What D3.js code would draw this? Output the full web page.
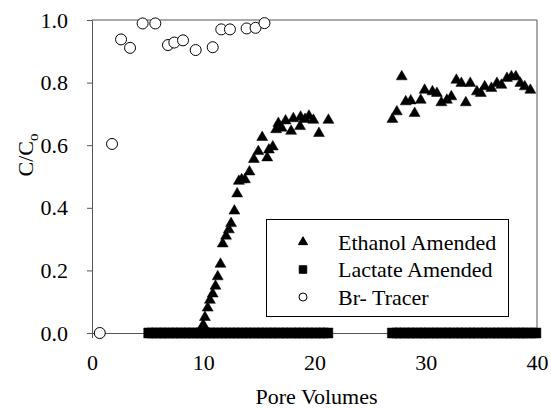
<!DOCTYPE html>
<html>
<head>
<meta charset="utf-8">
<script src="https://cdn.jsdelivr.net/npm/d3@7"></script>
<style>
	body { margin: 0; background: #fff; }
</style>
</head>
<body>
<div id="graph"></div>
<script>
/*
 * values: [pore volumes, C/Co]
 */
var ethanolPts = [
	[9.8, 0.01], [10.0, 0.026], [10.15, 0.05], [10.4, 0.08], [10.6, 0.105],
	[10.85, 0.125], [11.1, 0.15], [11.3, 0.18], [11.55, 0.22], [11.75, 0.285],
	[12.05, 0.31], [12.3, 0.33], [12.5, 0.35], [12.8, 0.39], [13.05, 0.445],
	[13.2, 0.485], [13.45, 0.49], [13.75, 0.49], [14.15, 0.515], [14.55, 0.555],
	[14.95, 0.58], [15.3, 0.625], [15.75, 0.56], [15.9, 0.585], [16.25, 0.595],
	[16.55, 0.65], [16.75, 0.67], [17.05, 0.655], [17.4, 0.678], [17.9, 0.645],
	[18.1, 0.685], [18.7, 0.66], [18.75, 0.69], [19.15, 0.683], [19.5, 0.693],
	[19.9, 0.68], [20.4, 0.638], [21.25, 0.68],
	[27.0, 0.683], [27.4, 0.707], [27.84, 0.819], [28.2, 0.739], [28.65, 0.742],
	[29.0, 0.702], [29.55, 0.744], [29.9, 0.776], [30.6, 0.771], [31.0, 0.766],
	[31.4, 0.736], [31.9, 0.744], [32.3, 0.755], [32.75, 0.808], [33.2, 0.798],
	[33.6, 0.736], [34.0, 0.798], [34.6, 0.771], [34.95, 0.766], [35.3, 0.787],
	[35.9, 0.782], [36.4, 0.798], [36.8, 0.792], [37.3, 0.814], [37.7, 0.819],
	[38.1, 0.819], [38.5, 0.798], [38.9, 0.787], [39.4, 0.776]
];

var lactatePts = [
	[5.1, 0], [5.4, 0], [5.8, 0], [6.2, 0], [6.5, 0], [6.9, 0], [7.3, 0],
	[7.6, 0], [8.0, 0], [8.4, 0], [8.7, 0], [9.1, 0], [9.5, 0], [9.8, 0],
	[10.2, 0], [10.6, 0], [10.9, 0], [11.3, 0], [11.7, 0], [12.0, 0],
	[12.4, 0], [12.8, 0], [13.1, 0], [13.5, 0], [13.9, 0], [14.2, 0],
	[14.6, 0], [15.0, 0], [15.3, 0], [15.7, 0], [16.1, 0], [16.4, 0],
	[16.8, 0], [17.2, 0], [17.5, 0], [17.9, 0], [18.3, 0], [18.6, 0],
	[19.0, 0], [19.4, 0], [19.7, 0], [20.1, 0], [20.5, 0], [20.8, 0],
	[21.2, 0],
	[27.0, 0], [27.4, 0], [27.7, 0], [28.1, 0], [28.5, 0], [28.8, 0],
	[29.2, 0], [29.6, 0], [29.9, 0], [30.3, 0], [30.7, 0], [31.0, 0],
	[31.4, 0], [31.8, 0], [32.1, 0], [32.5, 0], [32.9, 0], [33.2, 0],
	[33.6, 0], [34.0, 0], [34.3, 0], [34.7, 0], [35.1, 0], [35.4, 0],
	[35.8, 0], [36.2, 0], [36.5, 0], [36.9, 0], [37.3, 0], [37.6, 0],
	[38.0, 0], [38.4, 0], [38.7, 0], [39.1, 0], [39.5, 0], [39.9, 0]
];

var brPts = [
	[0.7, 0.0], [1.8, 0.604], [2.61, 0.938], [3.42, 0.911], [4.55, 0.989],
	[5.69, 0.989], [6.83, 0.92], [7.4, 0.928], [8.18, 0.935], [9.32, 0.904],
	[10.85, 0.913], [11.62, 0.97], [12.4, 0.97], [13.9, 0.973], [14.7, 0.975],
	[15.5, 0.99]
];

var xTicks = [0, 10, 20, 30, 40];
var yTicks = [0, 0.2, 0.4, 0.6, 0.8, 1.0];
var legendLabels = ["Ethanol Amended", "Lactate Amended", "Br- Tracer"];

var width = 551, height = 408;
// plot box (window.top is taken, hence the prefix)
var plotLeft = 92, plotRight = 537, plotTop = 20, plotBottom = 333;
var axisColor = "#555";
var fontName = "\"Liberation Serif\"";

var xScale = d3.scaleLinear().domain([0, 40]).range([plotLeft, plotRight]);
var yScale = d3.scaleLinear().domain([0, 1]).range([plotBottom, plotTop]);

var svg = d3.select("#graph").append("svg")
	.attr("width", width)
	.attr("height", height);

// every text gets the family set on itself
function serifText(sel, px) {
	return sel.style("font-family", fontName)
		.style("font-size", px + "px")
		.attr("fill", "#000");
}

// frame: top and right edges without ticks
svg.append("path")
	.attr("d", "M" + plotLeft + "," + plotTop + "H" + plotRight
		+ "V" + plotBottom)
	.attr("fill", "none")
	.attr("stroke", axisColor);

var xAxis = d3.axisBottom(xScale)
	.tickValues(xTicks)
	.tickSize(5)
	.tickPadding(16)
	.tickSizeOuter(0)
	.tickFormat(d3.format("d"));

var yAxis = d3.axisLeft(yScale)
	.tickValues(yTicks)
	.tickSize(5)
	.tickPadding(19)
	.tickSizeOuter(0)
	.tickFormat(d3.format(".1f"));

function styleAxis(g) {
	g.attr("font-family", null).attr("font-size", null);
	g.select(".domain").attr("stroke", axisColor);
	g.selectAll(".tick line").attr("stroke", axisColor);
	serifText(g.selectAll(".tick text"), 22);
}

svg.append("g")
	.attr("transform", "translate(0," + plotBottom + ")")
	.call(xAxis)
	.call(styleAxis);

svg.append("g")
	.attr("transform", "translate(" + plotLeft + ",0)")
	.call(yAxis)
	.call(styleAxis);

// axis titles
serifText(svg.append("text"), 22)
	.attr("x", (plotLeft + plotRight) / 2 + 2)
	.attr("y", 404)
	.attr("text-anchor", "middle")
	.text("Pore Volumes");

var yTitle = serifText(svg.append("text"), 22)
	.attr("transform", "translate(33,155) rotate(-90)")
	.attr("text-anchor", "middle");
yTitle.append("tspan").text("C/C");
serifText(yTitle.append("tspan"), 15)
	.attr("baseline-shift", "-5")
	.text("o");

var tri = d3.symbol().type(d3.symbolTriangle);
var sq = d3.symbol().type(d3.symbolSquare);
var circ = d3.symbol().type(d3.symbolCircle);

function drawSeries(points, symbolGen, size, fill) {
	svg.append("g").selectAll("path")
		.data(points)
		.enter().append("path")
		.attr("transform", function (d) {
			return "translate(" + xScale(d[0]) + "," + yScale(d[1]) + ")";
		})
		.attr("d", symbolGen.size(size)())
		.attr("fill", fill)
		.attr("stroke", "#000")
		.attr("stroke-width", fill == "#fff" ? 1 : 0.5);
}

drawSeries(lactatePts, sq, 100, "#000");
drawSeries(ethanolPts, tri, 52, "#000");
drawSeries(brPts, circ, 95, "#fff");

// legend
var legend = svg.append("g");
legend.append("rect")
	.attr("x", 266.5).attr("y", 219.5)
	.attr("width", 242).attr("height", 97)
	.attr("fill", "#fff")
	.attr("stroke", "#000");

var legendSymbols = [
	{ gen: tri, size: 36, fill: "#000" },
	{ gen: sq, size: 56, fill: "#000" },
	{ gen: circ, size: 50, fill: "#fff" }
];

legendLabels.forEach(function (label, i) {
	var cy = 242 + i * 27.5;
	legend.append("path")
		.attr("transform", "translate(303," + cy + ")")
		.attr("d", legendSymbols[i].gen.size(legendSymbols[i].size)())
		.attr("fill", legendSymbols[i].fill)
		.attr("stroke", "#000")
		.attr("stroke-width", 1);
	serifText(legend.append("text"), 22)
		.attr("x", 338)
		.attr("y", cy + 7.5)
		.text(label);
});
</script>
</body>
</html>
